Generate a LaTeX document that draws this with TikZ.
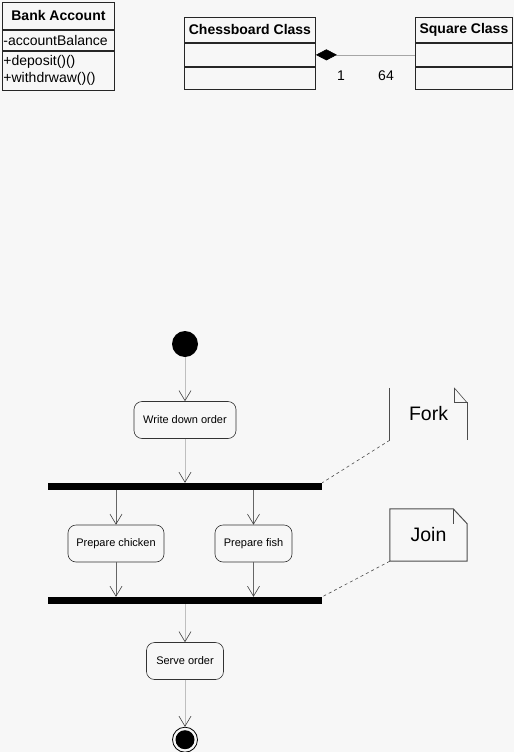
\documentclass[tikz,border=0pt]{standalone}
\usepackage{fontspec}
\setmainfont{Liberation Sans}
\usetikzlibrary{arrows.meta, positioning}

\begin{document}
\begin{tikzpicture}[
    x=1pt, y=-1pt,
    node distance=0pt,
    classhead/.style={rectangle, draw=black!85, line width=0.9pt, inner sep=0pt, font=\fontsize{14}{16}\selectfont\bfseries},
    classrow/.style={rectangle, draw=black!85, line width=0.9pt, inner xsep=1pt, inner ysep=0pt, align=left, font=\fontsize{14}{17}\selectfont},
    activity/.style={rectangle, rounded corners=8pt, draw=black!80, line width=0.6pt, minimum height=37pt, inner sep=0pt, font=\fontsize{11}{13}\selectfont},
    bar/.style={rectangle, fill=black, inner sep=0pt, minimum width=274pt, minimum height=7pt},
    notebox/.style={rectangle, inner sep=0pt, minimum width=77pt, minimum height=52pt, font=\fontsize{19.5}{22}\selectfont},
    flow/.style={draw=gray!50, line width=0.6pt, -{Straight Barb[length=10pt, width=12pt, color=black!75]}},
    darkflow/.style={flow, draw=black!60},
    noteline/.style={draw=black!70, line width=1pt},
    anchorline/.style={draw=black!70, line width=0.6pt, dashed}
]
\fill[black!3] (0,0) rectangle (514,752);
\useasboundingbox (0,0) rectangle (514,752);

\node[classhead, minimum width=112pt, minimum height=27pt, anchor=north west] (bank) at (2,2) {Bank Account};
\node[classrow, text width=110pt, minimum height=20pt, below=of bank] (bankattr) {-accountBalance};
\node[classrow, text width=110pt, minimum height=39pt, below=of bankattr] (bankops) {+deposit()()\\+withdrwaw()()};

\node[classhead, minimum width=131pt, minimum height=25pt, anchor=north west] (chess) at (184,17) {Chessboard Class};
\node[classrow, minimum width=131pt, minimum height=23pt, below=of chess] (chessattr) {};
\node[classrow, minimum width=131pt, minimum height=22pt, below=of chessattr] (chessops) {};

\node[classhead, minimum width=97pt, minimum height=25pt, anchor=north west] (square) at (415,17) {Square Class};
\node[classrow, minimum width=97pt, minimum height=23pt, below=of square] (squareattr) {};
\node[classrow, minimum width=97pt, minimum height=22pt, below=of squareattr] (squareops) {};

\draw[gray!70, line width=0.6pt, {Diamond[length=21pt, width=11pt, color=black]}-] (chessattr.east) -- (squareattr.west);
\node[font=\fontsize{14}{16}\selectfont] (multone) at (341,76) {1};
\node[font=\fontsize{14}{16}\selectfont] (multsixtyfour) at (386,76) {64};

\node[circle, fill=black, minimum size=26pt, inner sep=0pt] (start) at (185,344) {};
\node[activity, minimum width=102pt, below=44pt of start] (write) {Write down order};
\node[bar, below=44pt of write] (fork) {};
\node[activity, minimum width=96pt] (chicken) at (116,543.5) {Prepare chicken};
\node[activity, minimum width=77pt] (fish) at (253.5,543.5) {Prepare fish};
\node[bar] (join) at (185,600.5) {};
\node[activity, minimum width=77pt, below=38pt of join] (serve) {Serve order};
\node[circle, draw, line width=0.8pt, minimum size=25pt, inner sep=0pt, below=47pt of serve] (end) {};
\node[circle, fill=black, minimum size=19pt, inner sep=0pt] (endcore) at (end) {};

\draw[flow] (start) -- (write);
\draw[flow] (write) -- (fork);
\draw[darkflow] (fork.south -| chicken) -- (chicken);
\draw[darkflow] (fork.south -| fish) -- (fish);
\draw[darkflow] (chicken) -- (chicken |- join.north);
\draw[darkflow] (fish) -- (fish |- join.north);
\draw[flow] (join) -- (serve);
\draw[flow] (serve) -- (end);

\node[notebox] (forknote) at (428.5,414) {Fork};
\draw[noteline] (forknote.north west) -- (forknote.south west);
\draw[noteline] ([xshift=-13pt]forknote.north east) -- ([xshift=-13pt, yshift=-15pt]forknote.north east) -- ([yshift=-15pt]forknote.north east) -- (forknote.south east);
\draw[noteline, line width=0.6pt] ([xshift=-13pt]forknote.north east) -- ([yshift=-15pt]forknote.north east);

\node[notebox] (joinnote) at (428.5,535) {Join};
\draw[noteline] ([xshift=-14pt]joinnote.north east) -- (joinnote.north west) -- (joinnote.south west) -- (joinnote.south east) -- ([yshift=-15pt]joinnote.north east) -- cycle;
\draw[noteline] ([xshift=-14pt]joinnote.north east) -- ([xshift=-14pt, yshift=-15pt]joinnote.north east);

\draw[anchorline] (forknote.south west) -- (fork.north east);
\draw[anchorline] (joinnote.south west) -- (join.north east);
\end{tikzpicture}
\end{document}
